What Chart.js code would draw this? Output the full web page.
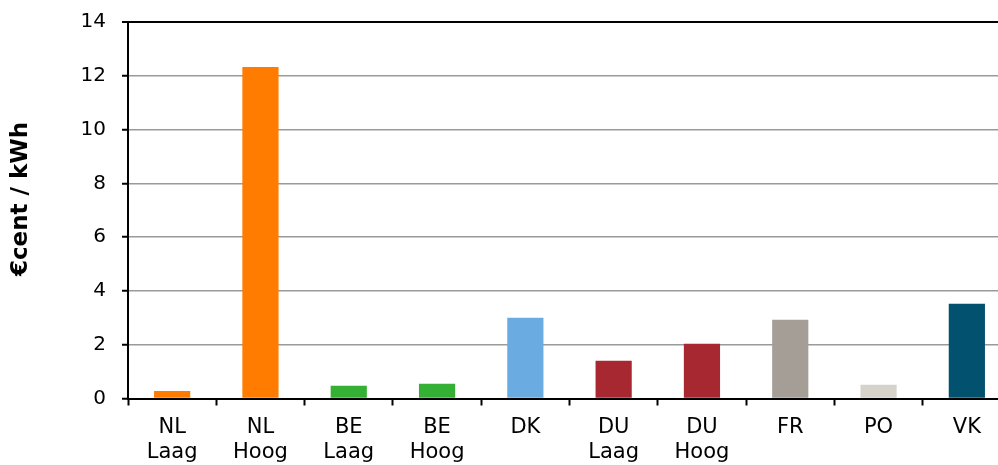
<!DOCTYPE html>
<html>
<head>
<meta charset="utf-8">
<script src="https://cdn.jsdelivr.net/npm/chart.js@4"></script>
<style>
  html, body { margin: 0; padding: 0; background: #fff; overflow: hidden; }
  #wrap { width: 1020px; height: 490px; }
</style>
</head>
<body>
<div id="wrap"><canvas id="chart"></canvas></div>
<script>
/* ── data ─────────────────────────────── */
const categories = [
  ['NL', 'Laag'], ['NL', 'Hoog'], ['BE', 'Laag'], ['BE', 'Hoog'], 'DK',
  ['DU', 'Laag'], ['DU', 'Hoog'], 'FR', 'PO', 'VK'
];
const values = [0.28, 12.33, 0.47, 0.55, 3.0, 1.4, 2.04, 2.93, 0.51, 3.52];
const barColors = [
  '#FF7C00', '#FF7C00', '#34B034', '#34B034', '#6AACE2',
  '#A82832', '#A82832', '#A59E97', '#D6D3CB', '#02526F'
];
const yTicks = [0, 2, 4, 6, 8, 10, 12, 14];
const yTitle = '€cent / kWh';

const FONT = 'DejaVu Sans, Verdana, sans-serif';

// axis title drawn by hand so it can sit where the original has it
const yTitlePlugin = {
  id: 'yTitle',
  afterDraw(chart) {
    const c = chart.ctx;
    c.save();
    c.translate(21, 199);
    c.rotate(-Math.PI / 2);
    c.font = 'bold 23px ' + FONT;
    c.fillStyle = '#000';
    c.textAlign = 'center';
    c.textBaseline = 'middle';
    c.fillText(yTitle, 0, 0);
    c.restore();
  }
};

new Chart(document.getElementById('chart'), {
  type: 'bar',
  data: {
    labels: categories,
    datasets: [{
      data: values,
      backgroundColor: barColors,
      barPercentage: 0.41,
      categoryPercentage: 1
    }]
  },
  options: {
    responsive: true,
    maintainAspectRatio: false,
    animation: false,
    layout: { padding: { top: 22, right: 9, left: 0, bottom: 0 } },
    plugins: { legend: { display: false }, tooltip: { enabled: false } },
    scales: {
      x: {
        afterFit: s => { s.height = 490 - 398.5; s.paddingLeft = 0; s.paddingRight = 0; },
        border: { color: '#000', width: 2 },
        grid: {
          drawOnChartArea: false, offset: true,
          tickLength: 7, tickColor: '#000', tickWidth: 2
        },
        ticks: { color: '#000', padding: 9, font: { family: FONT, size: 21, lineHeight: 1.22 } }
      },
      y: {
        min: 0, max: 14,
        afterFit: s => { s.width = 128; s.paddingTop = 0; s.paddingBottom = 0; },
        afterBuildTicks: s => { s.ticks = yTicks.map(v => ({ value: v })); },
        border: { color: '#000', width: 2 },
        grid: {
          color: ctx => (ctx.tick && ctx.tick.value === 14) ? '#000' : '#9a9a9a',
          lineWidth: ctx => (ctx.tick && ctx.tick.value === 14) ? 2 : 1.5,
          tickLength: 6, tickColor: '#000', tickWidth: 2
        },
        ticks: { color: '#000', padding: 16, font: { family: FONT, size: 20 } }
      }
    }
  },
  plugins: [yTitlePlugin]
});
</script>
</body>
</html>
